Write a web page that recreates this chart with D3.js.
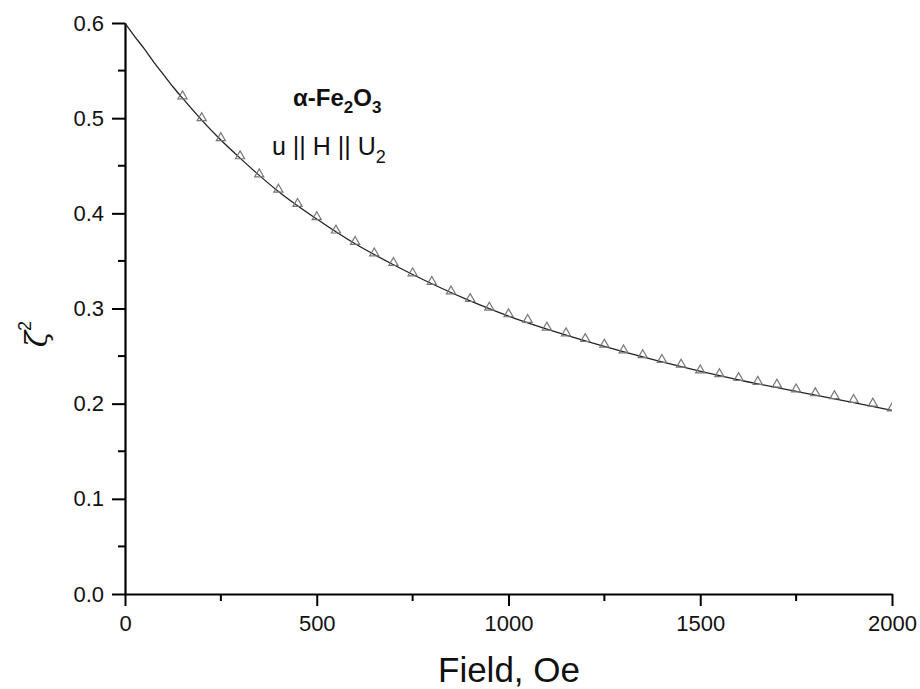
<!DOCTYPE html>
<html><head><meta charset="utf-8">
<script src="https://cdn.jsdelivr.net/npm/d3@7"></script>
<style>body{margin:0;background:#fff}svg{display:block}</style>
</head><body>
<svg id="c" width="920" height="689"></svg>
<script>
const markerField = [150,200,250,300,350,400,450,500,550,600,650,700,750,800,850,900,950,1000,1050,1100,1150,1200,1250,1300,1350,1400,1450,1500,1550,1600,1650,1700,1750,1800,1850,1900,1950,2000];
const markerZeta2 = [0.521,0.498,0.477,0.458,0.439,0.423,0.408,0.394,0.380,0.368,0.356,0.346,0.335,0.326,0.316,0.308,0.299,0.292,0.286,0.278,0.272,0.266,0.260,0.254,0.249,0.244,0.239,0.233,0.229,0.225,0.221,0.218,0.213,0.209,0.206,0.202,0.198,0.193];
const curveField = [0,25,50,75,100,125,150,200,250,300,400,500,600,700,800,900,1000,1200,1400,1600,1800,2000];
const curveZeta2 = [0.600,0.586,0.573,0.559,0.546,0.533,0.521,0.498,0.477,0.458,0.423,0.394,0.368,0.346,0.326,0.308,0.292,0.266,0.244,0.225,0.209,0.193];
const xTicks = [0,500,1000,1500,2000];
const yTicks = [0.0,0.1,0.2,0.3,0.4,0.5,0.6];

const svg = d3.select("#c");
const x = d3.scaleLinear().domain([0,2000]).range([125,892]);
const y = d3.scaleLinear().domain([0,0.6]).range([594,23]);
const font = "'Liberation Sans', Arial, sans-serif";

svg.append("clipPath").attr("id","clip").append("rect")
  .attr("x",125).attr("y",0).attr("width",767).attr("height",594);

// minor ticks
const xMinor = d3.range(250,2000,500);
svg.append("g").selectAll("line").data(xMinor).join("line")
  .attr("x1",d=>x(d)).attr("x2",d=>x(d)).attr("y1",594).attr("y2",601)
  .attr("stroke","#000").attr("stroke-width",2);
const yMinor = d3.range(0.05,0.6,0.1);
svg.append("g").selectAll("line").data(yMinor).join("line")
  .attr("x1",118).attr("x2",125).attr("y1",d=>y(d)).attr("y2",d=>y(d))
  .attr("stroke","#000").attr("stroke-width",2);

// axes
const xAxis = d3.axisBottom(x).tickValues(xTicks).tickFormat(d3.format("d")).tickSize(12).tickSizeOuter(0).tickPadding(6);
const gx = svg.append("g").attr("transform","translate(0,594)").call(xAxis);
const yAxis = d3.axisLeft(y).tickValues(yTicks).tickFormat(d3.format(".1f")).tickSize(13).tickSizeOuter(0).tickPadding(8);
const gy = svg.append("g").attr("transform","translate(125,0)").call(yAxis);
[gx,gy].forEach(g=>{
  g.select(".domain").attr("stroke","#000").attr("stroke-width",2.2);
  g.selectAll(".tick line").attr("stroke","#000").attr("stroke-width",2);
  g.selectAll(".tick text").attr("font-family",font).attr("font-size",22).attr("fill","#111");
});
gx.selectAll(".tick text").attr("dy","0.85em");

// curve
const curveData = curveField.map((f,i)=>[f,curveZeta2[i]]);
svg.append("path").datum(curveData)
  .attr("d", d3.line().x(d=>x(d[0])).y(d=>y(d[1])).curve(d3.curveMonotoneX))
  .attr("fill","none").attr("stroke","#222").attr("stroke-width",1.3);

// markers
const tri = d3.symbol().type(d3.symbolTriangle).size(36);
svg.append("g").attr("clip-path","url(#clip)").selectAll("path")
  .data(markerField.map((f,i)=>[f,markerZeta2[i]])).join("path")
  .attr("d",tri)
  .attr("transform",d=>`translate(${x(d[0])},${y(d[1])-2})`)
  .attr("fill","none").attr("stroke","#777").attr("stroke-width",1.2);

// axis titles
svg.append("text").attr("x",509).attr("y",682).attr("text-anchor","middle")
  .attr("font-family",font).attr("font-size",35).attr("fill","#111").text("Field, Oe");
const yl = svg.append("text").attr("transform","translate(47,334) rotate(-90)")
  .attr("text-anchor","middle").attr("fill","#111");
yl.append("tspan").attr("font-family","'DejaVu Serif', serif").attr("font-style","italic").attr("font-size",30).text("ζ");
yl.append("tspan").attr("font-family",font).attr("font-size",18).attr("dy",-16).text("2");

// annotation
const a1 = svg.append("text").attr("x",293).attr("y",106).attr("font-family",font)
  .attr("font-weight","bold").attr("font-size",24).attr("fill","#111");
a1.append("tspan").text("α-Fe");
a1.append("tspan").attr("font-size",17).attr("dy",7).text("2");
a1.append("tspan").attr("dy",-7).text("O");
a1.append("tspan").attr("font-size",17).attr("dy",7).text("3");
const a2 = svg.append("text").attr("x",272).attr("y",155).attr("font-family",font)
  .attr("font-size",25).attr("fill","#111");
a2.append("tspan").text("u || H || U");
a2.append("tspan").attr("font-size",18).attr("dy",8).text("2");
</script>
</body></html>
